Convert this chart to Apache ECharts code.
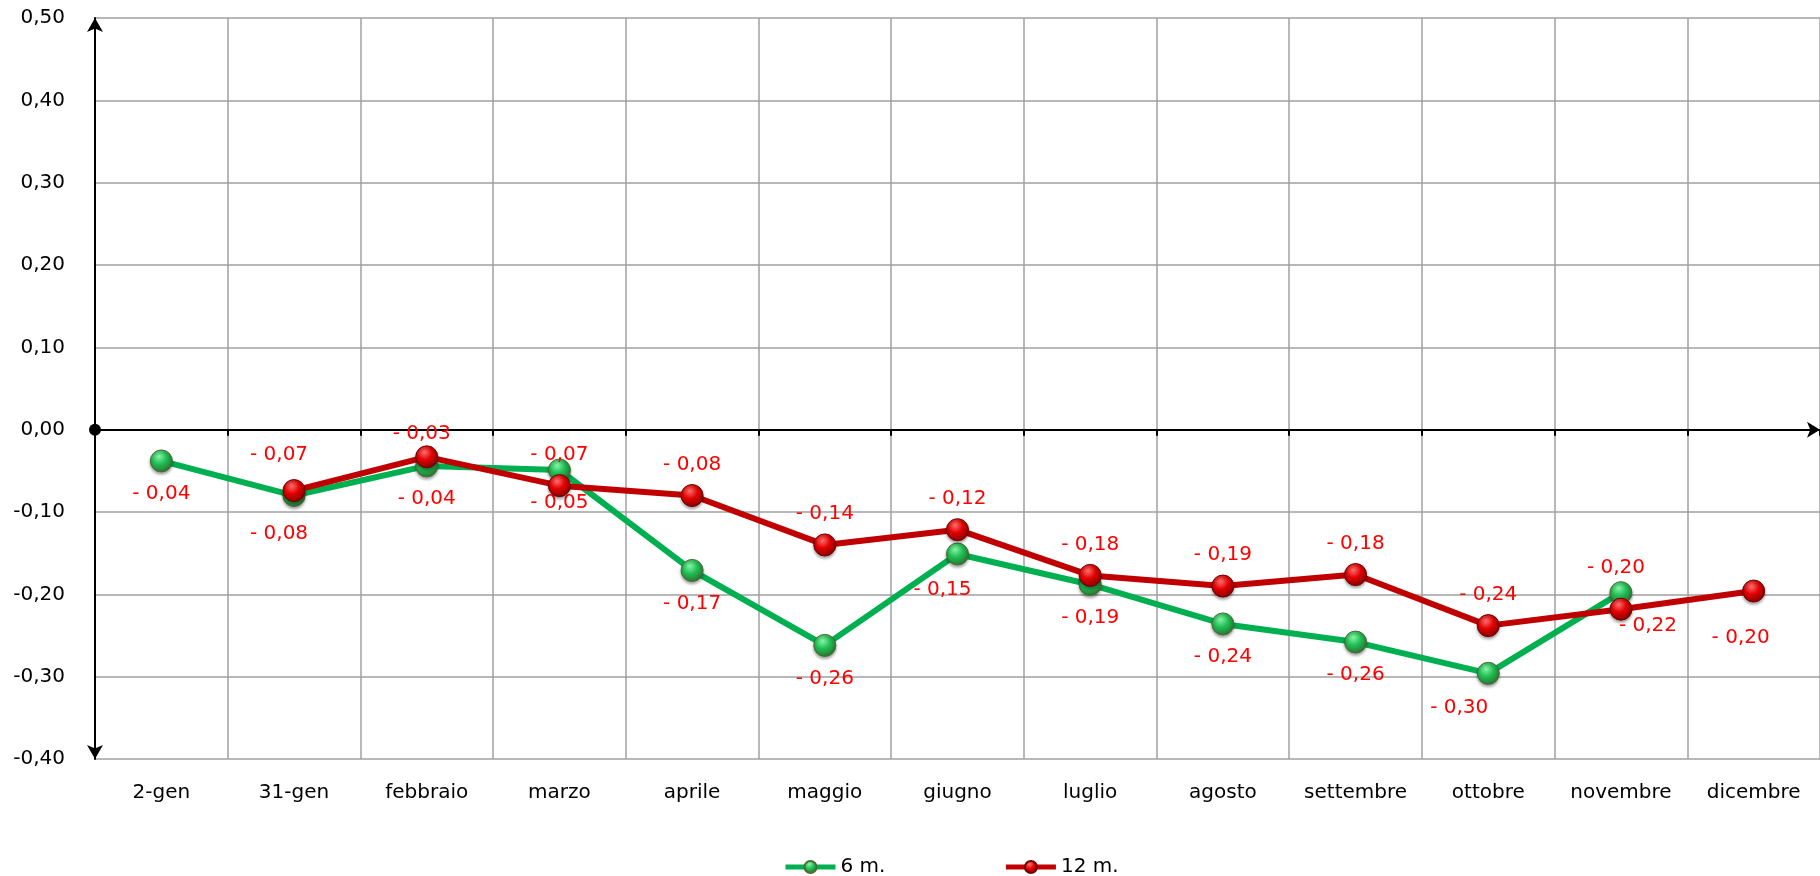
<!DOCTYPE html>
<html>
<head>
<meta charset="utf-8">
<script src="https://cdn.jsdelivr.net/npm/echarts@6/dist/echarts.min.js"></script>
<style>
  html, body { margin: 0; padding: 0; background: #fff; }
  #chart { width: 1820px; height: 876px; }
</style>
</head>
<body>
<div id="chart"></div>
<script>
// categorie sull'asse x
var mesi = ['2-gen', '31-gen', 'febbraio', 'marzo', 'aprile', 'maggio', 'giugno',
            'luglio', 'agosto', 'settembre', 'ottobre', 'novembre', 'dicembre'];

// serie 6 mesi (verde) e 12 mesi (rossa)
var sei = [-0.038, -0.080, -0.044, -0.049, -0.171, -0.262, -0.151,
           -0.188, -0.236, -0.258, -0.296, -0.198, null];
var dodici = [null, -0.074, -0.033, -0.068, -0.080, -0.140, -0.1215,
              -0.177, -0.190, -0.176, -0.238, -0.218, -0.196];

var nomiSerie = ['6 m.', '12 m.'];

// spostamenti delle etichette (come nel grafico originale)
var offSei = { 1: [-15, 38], 6: [-15, 36], 10: [-29, 34], 11: [-5, -25] };
var offDodici = { 1: [-15, -36], 2: [-5, -23], 11: [27, 17], 12: [-13, 47] };

var font = 'DejaVu Sans';

function fmtLabel(v) {
    return '- ' + Math.abs(v).toFixed(2).replace('.', ',');
}

function buildData(values, defOffset, overrides) {
    var out = [];
    for (var i = 0; i < values.length; i++) {
        if (values[i] === null) { out.push(null); continue; }
        out.push({
            value: values[i],
            label: { offset: overrides[i] || defOffset }
        });
    }
    return out;
}

function sphere(light, mid, dark) {
    return new echarts.graphic.RadialGradient(0.4, 0.3, 0.75, [
        { offset: 0, color: light },
        { offset: 0.45, color: mid },
        { offset: 1, color: dark }
    ]);
}

var myChart = echarts.init(document.getElementById('chart'));

var labelStyle = {
    show: true,
    position: 'inside',
    color: '#ff0000',
    fontFamily: font,
    fontSize: 20,
    formatter: function (p) { return fmtLabel(p.value); }
};

var option = {
    animation: false,
    backgroundColor: '#fff',
    grid: { left: 95, top: 18, right: -4, bottom: 117 },
    legend: {
        left: 778,
        top: 852,
        itemWidth: 50,
        itemHeight: 15,
        itemGap: 118,
        lineStyle: { width: 5 },
        textStyle: { fontFamily: font, fontSize: 20, color: '#000' },
        data: nomiSerie
    },
    xAxis: [
        {
            type: 'category',
            data: mesi,
            position: 'bottom',
            axisLine: { show: false, onZero: false },
            axisTick: { show: false },
            axisLabel: { fontFamily: font, fontSize: 20, color: '#000', margin: 24, interval: 0 },
            splitLine: { show: true, interval: 0, lineStyle: { color: '#a0a0a0', width: 1.5 } }
        },
        {
            type: 'category',
            data: mesi,
            position: 'bottom',
            axisLine: {
                show: true, onZero: true,
                symbol: ['circle', 'arrow'],
                symbolSize: [12, 13],
                lineStyle: { color: '#000', width: 2 }
            },
            axisTick: { show: true, interval: 0, length: 6, lineStyle: { color: '#000', width: 2 } },
            axisLabel: { show: false },
            splitLine: { show: false }
        }
    ],
    yAxis: {
        type: 'value',
        min: -0.4,
        max: 0.5,
        interval: 0.1,
        axisLine: {
            show: true,
            symbol: ['arrow', 'arrow'],
            symbolSize: [12, 14],
            lineStyle: { color: '#000', width: 2 }
        },
        axisTick: { show: false },
        axisLabel: {
            fontFamily: font, fontSize: 20, color: '#000', margin: 30,
            formatter: function (v) { return v.toFixed(2).replace('.', ','); }
        },
        splitLine: { show: true, lineStyle: { color: '#a0a0a0', width: 1.5 } }
    },
    series: [
        {
            name: nomiSerie[0],
            type: 'line',
            data: buildData(sei, [0, 33], offSei),
            symbol: 'circle',
            symbolSize: 22,
            lineStyle: { color: '#00b050', width: 6 },
            itemStyle: {
                color: sphere('#8af5a6', '#1fbf55', '#2c6a2c'),
                borderColor: '#4e6b34',
                borderWidth: 1,
                shadowColor: 'rgba(0,0,0,0.35)',
                shadowBlur: 3,
                shadowOffsetY: 2
            },
            label: labelStyle,
            z: 2
        },
        {
            name: nomiSerie[1],
            type: 'line',
            data: buildData(dodici, [0, -31], offDodici),
            symbol: 'circle',
            symbolSize: 22,
            lineStyle: { color: '#c00000', width: 6 },
            itemStyle: {
                color: sphere('#ff7070', '#e30000', '#7a0000'),
                borderColor: '#6e0000',
                borderWidth: 1,
                shadowColor: 'rgba(0,0,0,0.35)',
                shadowBlur: 3,
                shadowOffsetY: 2
            },
            label: labelStyle,
            z: 3
        }
    ]
};

myChart.setOption(option);
</script>
</body>
</html>
